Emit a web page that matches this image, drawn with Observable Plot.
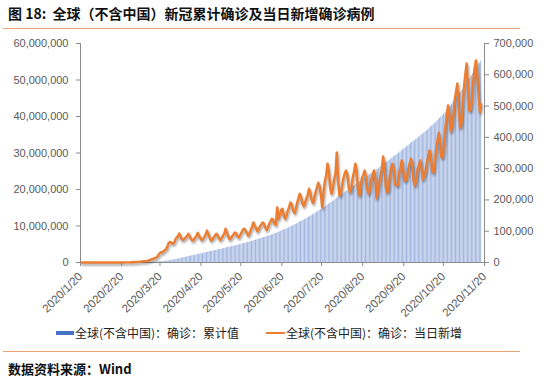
<!DOCTYPE html>
<html><head><meta charset="utf-8">
<script src="https://cdn.jsdelivr.net/npm/d3@7"></script>
<script src="https://cdn.jsdelivr.net/npm/@observablehq/plot@0.6"></script>
<style>
body{margin:0;background:#fff;width:550px;height:379px;position:relative;overflow:hidden;font-family:"Noto Sans CJK SC",sans-serif}
#title{position:absolute;left:8px;top:3px;font-size:14px;font-weight:bold;color:#111;white-space:nowrap;line-height:20px}
.rule{position:absolute;left:3px;width:517px;height:0;border-top:1.5px solid #EBA676}
#chart{position:absolute;left:0;top:34px}
.leg{position:absolute;top:325px;font-size:12px;color:#222;white-space:nowrap;line-height:16px}
.sw{position:absolute}
#source{position:absolute;left:8px;top:360px;font-size:13px;font-weight:bold;color:#111;white-space:nowrap;line-height:18px}
</style></head>
<body>
<div id="title">图 18:&nbsp; 全球（不含中国）新冠累计确诊及当日新增确诊病例</div>
<div class="rule" style="top:28px"></div>
<div id="chart"></div>
<div class="sw" style="left:56px;top:331px;width:18px;height:4px;background:#4472C4"></div>
<div class="leg" style="left:75px">全球(不含中国)：确诊：累计值</div>
<div class="sw" style="left:266px;top:332px;width:19px;height:2px;background:#ED7D31"></div>
<div class="leg" style="left:286px">全球(不含中国)：确诊：当日新增</div>
<div class="rule" style="top:351px"></div>
<div id="source">数据资料来源：Wind</div>
<script>
const startDate = "2020/1/20";
const endDate = "2020/11/20";
const seriesNames = ["全球(不含中国)：确诊：累计值", "全球(不含中国)：确诊：当日新增"];
// daily new confirmed, thousands (right axis)
const dailyNewK = [
0,0,0,0,0,0.01,0.01,
0.01,0.02,0.01,0.02,0.02,0.02,0.01,
0.02,0.02,0.03,0.02,0.03,0.02,0.01,
0.02,0.01,0.03,0.2,0.05,0.03,0.08,
0.1,0.05,0.04,0.05,0.15,0.3,0.35,
0.4,0.5,0.6,0.8,1.0,1.5,1.5,
1.8,1.9,2.2,2.7,3.6,4.0,3.8,
4.2,5.0,7.0,7.5,10.5,11.0,13.0,
14.5,17,22,28,33,32,34,
40,42,50,62,66,64,60,
62,72,80,83,93,85,74,
72,76,80,86,92,84,76,
70,72,80,85,95,86,78,
72,76,82,90,102,92,80,
70,74,80,86,92,88,78,
72,78,86,92,108,96,84,
74,78,84,90,96,94,84,
80,88,96,104,108,104,96,
86,92,104,114,128,118,110,
100,106,116,122,128,124,112,
104,112,124,132,140,136,124,
120,176,140,152,168,172,150,
140,150,166,178,192,186,168,
158,170,190,205,220,210,190,
180,190,205,215,236,225,200,
190,205,225,240,255,245,215,
176,225,260,280,316,290,240,
220,240,265,285,352,260,214,
220,245,270,285,294,280,240,
225,240,270,290,316,290,230,
215,240,270,280,294,275,235,
220,235,265,280,294,270,205,
225,250,280,300,339,300,240,
224,235,275,300,316,300,250,
250,246,285,300,326,300,262,
262,270,300,315,332,310,260,
246,265,300,310,326,300,265,
278,290,320,340,358,335,290,
288,320,360,390,415,380,336,
336,380,430,470,502,470,420,
431,470,520,545,572,500,431,
440,500,560,600,636,560,486,
486,520,580,620,646,600,540,
480,505
];
// cumulative confirmed, thousands (left axis)
const cumulativeK = [
0,0,0,0,0,0.01,0.02,
0.03,0.05,0.06,0.08,0.1,0.12,0.13,
0.15,0.17,0.2,0.22,0.25,0.27,0.28,
0.3,0.31,0.34,0.54,0.59,0.62,0.7,
0.8,0.85,0.89,0.94,1.09,1.39,1.74,
2.1,2.6,3.2,4.0,5.0,6.5,8.0,
9.8,11.7,13.9,16.6,20.2,24.2,28.0,
32,37,44,52,62,73,86,
101,118,140,168,201,233,267,
307,349,399,461,527,591,651,
713,785,865,948,1041,1126,1200,
1272,1348,1428,1514,1606,1690,1766,
1836,1908,1988,2073,2168,2254,2332,
2404,2480,2562,2652,2754,2846,2926,
2996,3070,3150,3236,3328,3416,3494,
3566,3644,3730,3822,3930,4026,4110,
4184,4262,4346,4436,4532,4626,4710,
4790,4878,4974,5078,5186,5290,5386,
5472,5564,5668,5782,5910,6028,6138,
6238,6344,6460,6582,6710,6834,6946,
7050,7162,7286,7418,7558,7694,7818,
7938,8114,8254,8406,8574,8746,8896,
9036,9186,9352,9530,9722,9908,10076,
10234,10404,10594,10799,11019,11229,11419,
11599,11789,11994,12209,12445,12670,12870,
13060,13265,13490,13730,13985,14230,14445,
14621,14846,15106,15386,15702,15992,16232,
16452,16692,16957,17242,17594,17854,18068,
18288,18533,18803,19088,19382,19662,19902,
20127,20367,20637,20927,21243,21533,21763,
21978,22218,22488,22768,23062,23337,23572,
23792,24027,24292,24572,24866,25136,25341,
25566,25816,26096,26396,26735,27035,27275,
27499,27734,28009,28309,28625,28925,29175,
29425,29671,29956,30256,30582,30882,31144,
31406,31676,31976,32291,32623,32933,33193,
33439,33704,34004,34314,34640,34940,35205,
35483,35773,36093,36433,36791,37126,37416,
37704,38024,38384,38774,39189,39569,39905,
40241,40621,41051,41521,42023,42493,42913,
43344,43814,44334,44879,45451,45951,46382,
46822,47322,47882,48482,49118,49678,50164,
50650,51170,51750,52370,53016,53616,54156,
54636,55141
];
const leftTicks = [0, 10000000, 20000000, 30000000, 40000000, 50000000, 60000000];
const rightTicks = [0, 100000, 200000, 300000, 400000, 500000, 600000, 700000];
const xTickLabels = ["2020/1/20","2020/2/20","2020/3/20","2020/4/20","2020/5/20","2020/6/20","2020/7/20","2020/8/20","2020/9/20","2020/10/20","2020/11/20"];

const parse = d3.utcParse("%Y/%m/%d");
const x0 = parse(startDate), x1 = parse(endDate);
const leftMax = leftTicks[leftTicks.length - 1];
const rightMax = rightTicks[rightTicks.length - 1];
const k = leftMax / rightMax;
const data = dailyNewK.map((v, i) => {
  const date = d3.utcDay.offset(x0, i);
  return {date, next: d3.utcDay.offset(x0, i + 1), mid: d3.utcHour.offset(date, 12), newCases: v * 1000, cumulative: cumulativeK[i] * 1000};
});
const tickDates = xTickLabels.map(parse);
const labelOf = new Map(tickDates.map((d, i) => [+d, xTickLabels[i]]));
const fmt = d3.format(",");
const axisColor = "#8c8c8c";

const chart = Plot.plot({
  width: 550, height: 292,
  marginLeft: 80, marginRight: 66, marginTop: 9, marginBottom: 64,
  style: {fontFamily: "'Liberation Sans', Arial, sans-serif", fontSize: "11px", color: "#595959", background: "transparent"},
  x: {type: "utc", domain: [x0, x1]},
  y: {domain: [0, leftMax]},
  marks: [
    Plot.rectY(data, {x1: "date", x2: "next", y: "cumulative", fill: "#a3b7df", insetLeft: 0.15, insetRight: 0.15}),
    Plot.ruleX([x0], {stroke: axisColor, strokeWidth: 1}),
    Plot.ruleX([x1], {stroke: axisColor, strokeWidth: 1}),
    Plot.ruleY([0], {stroke: axisColor, strokeWidth: 1}),
    Plot.line(data, {x: "mid", y: d => d.newCases * k, stroke: "#ED7D31", strokeWidth: 2.4, curve: "linear"}),
    Plot.axisY(leftTicks, {anchor: "left", tickSize: 4, tickPadding: 8, tickFormat: fmt, stroke: axisColor, fill: "#595959", label: null}),
    Plot.axisY(rightTicks.map(v => v * k), {anchor: "right", tickSize: 4, tickPadding: 5, tickFormat: v => fmt(Math.round(v / k)), stroke: axisColor, fill: "#595959", label: null}),
    Plot.axisX(tickDates, {anchor: "bottom", tickSize: 4, tickPadding: 8, tickRotate: -45, fontSize: 11.5, tickFormat: d => labelOf.get(+d), stroke: axisColor, fill: "#595959", label: null})
  ]
});
document.getElementById("chart").appendChild(chart);
const lineG = chart.querySelector('g[aria-label="line"]');
if (lineG) lineG.style.filter = "drop-shadow(1.5px 2px 1.2px rgba(0,0,0,0.35))";
</script>
</body></html>
